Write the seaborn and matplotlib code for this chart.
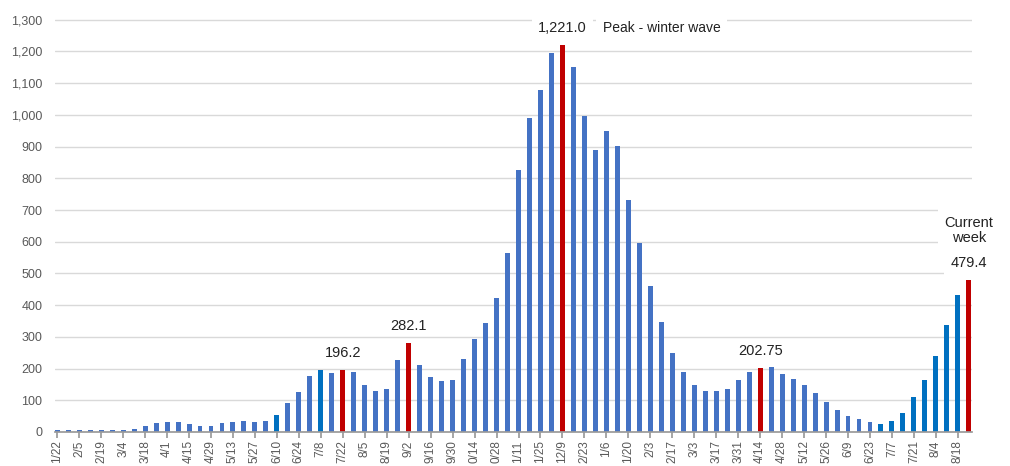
import numpy as np
import pandas as pd
import matplotlib
matplotlib.use("Agg")
import matplotlib.pyplot as plt
import seaborn as sns

# weekly values, 1/22/2020 .. 8/25/2021
weeks = pd.date_range("2020-01-22", periods=84, freq="7D")
cases = [5, 6, 6, 6, 6, 7, 7, 8, 18, 28,
         33, 33, 24, 18, 19, 28, 33, 35, 33, 35,
         54, 91, 127, 177, 197, 187, 196.2, 189, 147, 130,
         136, 227, 282.1, 210, 172, 161, 164, 230, 292, 345,
         423, 565, 827, 991, 1077, 1195, 1221.0, 1150, 996, 890,
         949, 901, 731, 596, 460, 348, 250, 189, 149, 129,
         129, 137, 165, 188, 202.75, 204, 184, 166, 149, 124,
         95, 69, 49, 42, 32, 26, 35, 61, 109, 165,
         239, 338, 432, 479.4]
tick_labels = ["1/22", "2/5", "2/19", "3/4", "3/18", "4/1", "4/15", "4/29", "5/13", "5/27",
               "6/10", "6/24", "7/8", "7/22", "8/5", "8/19", "9/2", "9/16", "9/30", "0/14",
               "0/28", "1/11", "1/25", "12/9", "2/23", "1/6", "1/20", "2/3", "2/17", "3/3",
               "3/17", "3/31", "4/14", "4/28", "5/12", "5/26", "6/9", "6/23", "7/7", "7/21",
               "8/4", "8/18"]
callouts = {26: "196.2", 32: "282.1", 46: "1,221.0", 64: "202.75", 83: "479.4"}

# bar colours
blue, dark_blue, red = "#4472C4", "#0070C0", "#C00000"
dark_idx = [20, 24] + list(range(75, 83))
colors = [red if i in callouts else dark_blue if i in dark_idx else blue
          for i in range(len(cases))]

sns.set_theme(style="white")
plt.rcParams["font.family"] = ["Liberation Sans", "DejaVu Sans"]

df = pd.DataFrame({"week": [f"{d.month}/{d.day}/{d.year}" for d in weeks], "cases": cases})

fig, ax = plt.subplots(figsize=(10.1, 4.66), dpi=100)
fig.subplots_adjust(left=0.0545, right=0.9625, bottom=0.073, top=0.959)
sns.barplot(data=df, x="week", y="cases", color=blue, width=0.45, saturation=1, ax=ax)
for patch, c in zip(ax.patches, colors):
    patch.set_facecolor(c)
    patch.set_edgecolor("none")

ax.set_xlim(-0.2, 83.3)
ax.set_ylim(0, 1302)
ax.set_yticks(range(0, 1301, 100))
ax.set_yticklabels([f"{v:,}" for v in range(0, 1301, 100)], fontsize=9, color="#595959")
ax.set_xticks(range(0, len(cases), 2))
ax.set_xticklabels(tick_labels, rotation=90, fontsize=8.5, color="#595959")
ax.set_xlabel("")
ax.set_ylabel("")
ax.yaxis.grid(True, color="#d9d9d9", lw=1)
ax.set_axisbelow(True)
for s in ["left", "right", "top"]:
    ax.spines[s].set_visible(False)
ax.spines["bottom"].set_color("#9a9a9a")
ax.tick_params(axis="x", length=4, color="#9a9a9a", pad=2, bottom=True)
ax.tick_params(axis="y", length=0, pad=9)

box = dict(fc="white", ec="none", pad=4.5)
for i, txt in callouts.items():
    ax.annotate(txt, (i, cases[i]), xytext=(0, 7), textcoords="offset points",
                ha="center", va="bottom", fontsize=10.5, color="#222222",
                bbox=box if i in (46, 83) else None, annotation_clip=False)
ax.annotate("Peak - winter wave", (46, cases[46]), xytext=(29, 7), textcoords="offset points",
            ha="left", va="bottom", fontsize=10, color="#222222", bbox=box)
ax.annotate("Current\nweek", (83, cases[83]), xytext=(0, 25), textcoords="offset points",
            ha="center", va="bottom", fontsize=10.5, color="#222222", linespacing=1.15,
            bbox=box, annotation_clip=False)

fig.savefig("out.png", dpi=100)
plt.close(fig)
